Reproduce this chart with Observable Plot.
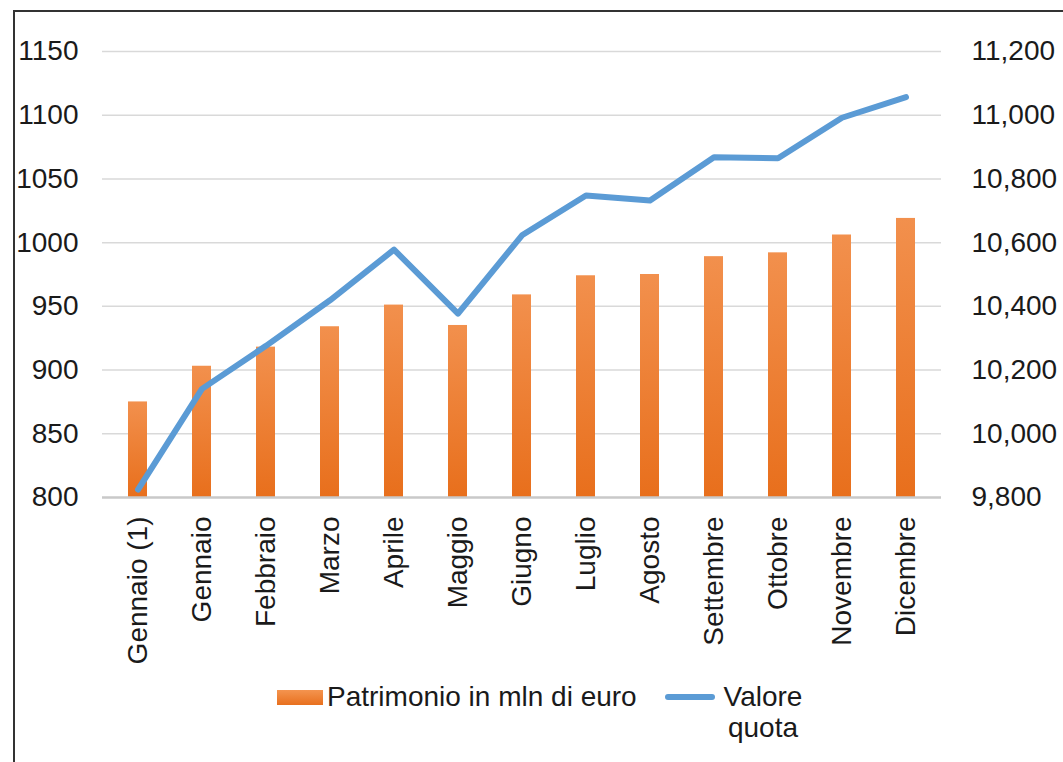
<!DOCTYPE html>
<html>
<head>
<meta charset="utf-8">
<script src="https://cdn.jsdelivr.net/npm/d3@7"></script>
<script src="https://cdn.jsdelivr.net/npm/@observablehq/plot@0.6"></script>
<style>
  html, body { margin:0; padding:0; width:1063px; height:762px; overflow:hidden; background:#fff;
    font-family:"Liberation Sans", Arial, sans-serif; color:#1a1a1a; }
  #frame { position:absolute; left:13px; top:10px; width:1200px; height:900px; border:2px solid #333; box-sizing:border-box; }
  #chart { position:absolute; left:0; top:0; }
  .lg { position:absolute; font-size:28px; line-height:31px; color:#1a1a1a; white-space:nowrap; }
</style>
</head>
<body>
<div id="frame"></div>
<div id="chart"></div>
<div id="legend">
  <div style="position:absolute;left:277px;top:690px;width:46px;height:15px;background:linear-gradient(#f4944f,#e8701e);"></div>
  <div class="lg" style="left:327px;top:681px;">Patrimonio in mln di euro</div>
  <div style="position:absolute;left:665px;top:694px;width:50px;height:6px;border-radius:3px;background:#5b9bd5;"></div>
  <div class="lg" style="left:710px;top:681px;width:106px;text-align:center;">Valore<br>quota</div>
</div>
<script>
const months = ["Gennaio (1)","Gennaio","Febbraio","Marzo","Aprile","Maggio","Giugno","Luglio","Agosto","Settembre","Ottobre","Novembre","Dicembre"];
const patrimonio = [875, 903, 918, 934, 951, 935, 959, 974, 975, 989, 992, 1006, 1019];
const valoreQuota = [9825, 10141, 10276, 10419, 10578, 10377, 10623, 10748, 10732, 10868, 10865, 10992, 11057];
const leftTicks = [800, 850, 900, 950, 1000, 1050, 1100, 1150];
const rightTicks = [9800, 10000, 10200, 10400, 10600, 10800, 11000, 11200];

// map right-axis values onto the left scale
const rightToLeft = v => 800 + (v - 9800) * (350 / 1400);
const leftToRight = v => 9800 + (v - 800) * (1400 / 350);

const data = months.map((m, i) => ({month: m, patrimonio: patrimonio[i], quota: valoreQuota[i], quotaL: rightToLeft(valoreQuota[i])}));

const svg = Plot.plot({
  width: 1063,
  height: 680,
  marginTop: 51,
  marginBottom: 183,
  marginLeft: 102,
  marginRight: 122,
  style: {fontFamily: '"Liberation Sans", Arial, sans-serif', fontSize: "28px", color: "#1a1a1a", background: "transparent"},
  x: {domain: months, paddingInner: 0.7, paddingOuter: 0.35, label: null},
  y: {domain: [800, 1150], label: null},
  marks: [
    Plot.ruleY(leftTicks.slice(1), {stroke: "#d9d9d9", strokeWidth: 1.5}),
    Plot.barY(data, {x: "month", y1: 800, y2: "patrimonio", fill: "url(#barGrad)"}),
    Plot.ruleY([800], {stroke: "#c9c9c9", strokeWidth: 2.5}),
    Plot.line(data, {x: "month", y: "quotaL", stroke: "#5b9bd5", strokeWidth: 6, strokeLinecap: "round", strokeLinejoin: "round"}),
    Plot.axisY({anchor: "left", ticks: leftTicks, tickSize: 0, tickPadding: 24, fontSize: 28, label: null, fill: "#1a1a1a",
      tickFormat: d => String(d)}),
    Plot.axisY({anchor: "right", ticks: rightTicks.map(rightToLeft), tickSize: 0, tickPadding: 30, fontSize: 28, label: null, fill: "#1a1a1a",
      tickFormat: d => d3.format(",")(Math.round(leftToRight(d)))}),
    Plot.axisX({anchor: "bottom", tickRotate: -90, tickSize: 0, tickPadding: 19, fontSize: 28, label: null, fill: "#1a1a1a"})
  ]
});

const defs = d3.select(svg).insert("defs", ":first-child");
const g = defs.append("linearGradient").attr("id", "barGrad").attr("x1", 0).attr("y1", 0).attr("x2", 0).attr("y2", 1);
g.append("stop").attr("offset", "0%").attr("stop-color", "#f2904d");
g.append("stop").attr("offset", "100%").attr("stop-color", "#e86f1c");

document.getElementById("chart").appendChild(svg);
</script>
</body>
</html>
